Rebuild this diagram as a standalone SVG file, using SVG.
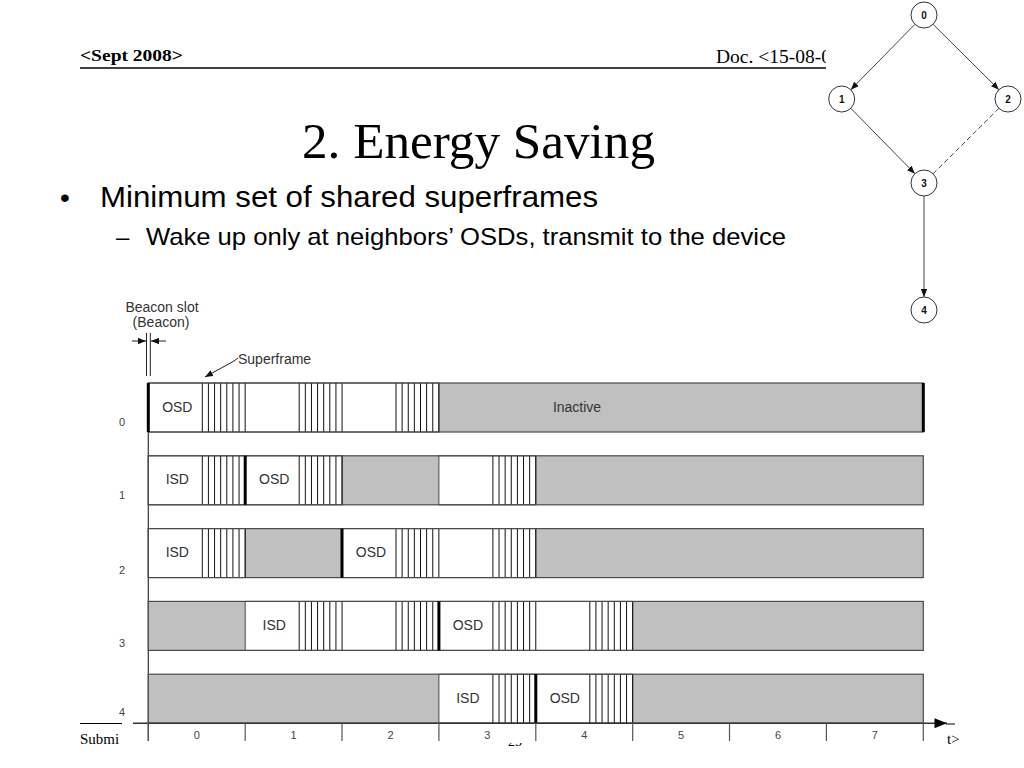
<svg xmlns="http://www.w3.org/2000/svg" width="1024" height="768" viewBox="0 0 1024 768">
<defs>
<style>
.serif{font-family:"Liberation Serif","Times New Roman",serif;fill:#000}
.sans{font-family:"Liberation Sans",Arial,sans-serif;fill:#000}
.ct{font-family:"Liberation Sans",Arial,sans-serif;font-size:14px;fill:#333}
.mid{text-anchor:middle}
.lbl{font-family:"Liberation Sans",Arial,sans-serif;font-size:11px;fill:#444;text-anchor:middle}
.gray{fill:#c0c0c0}
.white{fill:#fff;stroke:#4a4a4a;stroke-width:1}
.outline{fill:none;stroke:#4a4a4a;stroke-width:1.2}
.hl{stroke:#111;stroke-width:1}
.thick{stroke:#000;stroke-width:3}
.node circle{fill:#fff;stroke:#333;stroke-width:1}
.node text{font-family:"Liberation Sans",Arial,sans-serif;font-size:10px;font-weight:bold;text-anchor:middle;fill:#111}
.edge{stroke:#444;stroke-width:1;fill:none}
.ax{stroke:#333;stroke-width:1.5;fill:none}
.tick{stroke:#555;stroke-width:1.2}
</style>
<marker id="ah" viewBox="0 0 10 8" refX="10" refY="4" markerWidth="8" markerHeight="6.4" markerUnits="userSpaceOnUse" orient="auto"><path d="M0,0 L10,4 L0,8 z" fill="#111"/></marker>
<marker id="axah" viewBox="0 0 10 8" refX="10" refY="4" markerWidth="13" markerHeight="10" markerUnits="userSpaceOnUse" orient="auto"><path d="M0,0 L10,4 L0,8 z" fill="#000"/></marker>
<g id="hatch">
<line class="hl" x1="54" y1="0" x2="54" y2="49"/>
<line class="hl" x1="60.12" y1="0" x2="60.12" y2="49"/>
<line class="hl" x1="66.25" y1="0" x2="66.25" y2="49"/>
<line class="hl" x1="72.37" y1="0" x2="72.37" y2="49"/>
<line class="hl" x1="78.5" y1="0" x2="78.5" y2="49"/>
<line class="hl" x1="84.62" y1="0" x2="84.62" y2="49"/>
<line class="hl" x1="90.75" y1="0" x2="90.75" y2="49"/>
<line class="hl" x1="96.87" y1="0" x2="96.87" y2="49"/>
</g>
<clipPath id="hdrclip"><rect x="0" y="0" width="826" height="100"/></clipPath>
<clipPath id="pgclip"><rect x="480" y="743" width="80" height="10"/></clipPath>
</defs>
<rect width="1024" height="768" fill="#fff"/>

<g id="slide-header">
<text class="serif" x="80" y="61" font-size="17.5" font-weight="bold" textLength="103" lengthAdjust="spacingAndGlyphs">&lt;Sept 2008&gt;</text>
<text class="serif" x="716" y="63" font-size="19.5" clip-path="url(#hdrclip)">Doc. &lt;15-08-0</text>
<line x1="80" y1="68" x2="826" y2="68" stroke="#000" stroke-width="1.5"/>
</g>

<g id="slide-text">
<text class="serif" x="302" y="158" font-size="51" textLength="353" lengthAdjust="spacingAndGlyphs">2. Energy Saving</text>
<text class="sans" x="60" y="207" font-size="28">•</text>
<text class="sans" x="100" y="207" font-size="30" textLength="498" lengthAdjust="spacingAndGlyphs">Minimum set of shared superframes</text>
<text class="sans" x="116" y="245" font-size="24">–</text>
<text class="sans" x="146" y="245" font-size="24" textLength="640" lengthAdjust="spacingAndGlyphs">Wake up only at neighbors’ OSDs, transmit to the device</text>
</g>

<g id="slide-footer">
<line x1="80" y1="723.5" x2="122" y2="723.5" stroke="#000" stroke-width="1"/>
<text class="serif" x="80" y="744" font-size="15">Submi</text>
<text class="serif mid" x="515" y="746" font-size="14" clip-path="url(#pgclip)">25</text>
<line x1="946" y1="724" x2="955" y2="724" stroke="#000" stroke-width="1"/>
<text class="serif" x="947" y="744" font-size="15">t&gt;</text>
</g>

<g id="graph">
<g id="graph-edges">
<line class="edge" x1="914.9" y1="24.3" x2="850.8" y2="89.7" marker-end="url(#ah)"/>
<line class="edge" x1="933.1" y1="24.3" x2="998.9" y2="89.7" marker-end="url(#ah)"/>
<line class="edge" x1="850.8" y1="108.3" x2="914.9" y2="173.7" marker-end="url(#ah)"/>
<line class="edge" x1="999" y1="108.3" x2="933.1" y2="173.7" stroke-dasharray="5,3"/>
<line class="edge" x1="924" y1="196" x2="924" y2="297" marker-end="url(#ah)"/>
</g>
<g id="n0" class="node"><circle cx="924" cy="15" r="13"/><text x="924" y="18.5">0</text></g>
<g id="n1" class="node"><circle cx="841.7" cy="99" r="13"/><text x="841.7" y="102.5">1</text></g>
<g id="n2" class="node"><circle cx="1008" cy="99" r="13"/><text x="1008" y="102.5">2</text></g>
<g id="n3" class="node"><circle cx="924" cy="183" r="13"/><text x="924" y="186.5">3</text></g>
<g id="n4" class="node"><circle cx="924" cy="310" r="13"/><text x="924" y="313.5">4</text></g>
</g>

<g id="chart">
<g id="annotations">
<text class="ct mid" x="162" y="312">Beacon slot</text>
<text class="ct mid" x="161" y="327">(Beacon)</text>
<line x1="146.5" y1="333" x2="146.5" y2="376" stroke="#222" stroke-width="1"/>
<line x1="150.3" y1="333" x2="150.3" y2="376" stroke="#222" stroke-width="1"/>
<line x1="132" y1="341" x2="146" y2="341" stroke="#222" stroke-width="1" marker-end="url(#ah)"/>
<line x1="166" y1="341" x2="151" y2="341" stroke="#222" stroke-width="1" marker-end="url(#ah)"/>
<text class="ct" x="238" y="364">Superframe</text>
<polyline points="238,358 234,361 205,377" stroke="#222" stroke-width="1" fill="none" marker-end="url(#ah)"/>
</g>

<line id="v-axis" x1="148.3" y1="383" x2="148.3" y2="741" stroke="#333" stroke-width="1.2"/>

<g id="row0" transform="translate(0,383)">
<rect class="gray" x="148.3" y="0" width="775" height="49"/>
<rect class="white" x="148.3" y="0" width="290.6" height="49"/>
<use href="#hatch" x="148.3"/><use href="#hatch" x="245.2"/><use href="#hatch" x="342"/>
<text class="ct mid" x="177.3" y="29">OSD</text>
<text class="ct mid" x="577" y="29">Inactive</text>
<rect class="outline" x="148.3" y="0" width="775" height="49"/>
<line class="thick" x1="148.3" y1="0" x2="148.3" y2="49"/>
<line class="thick" x1="923.3" y1="0" x2="923.3" y2="49"/>
<text class="lbl" x="122" y="43">0</text>
</g>

<g id="row1" transform="translate(0,455.8)">
<rect class="gray" x="148.3" y="0" width="775" height="49"/>
<rect class="white" x="148.3" y="0" width="193.7" height="49"/>
<rect class="white" x="438.9" y="0" width="96.9" height="49"/>
<use href="#hatch" x="148.3"/><use href="#hatch" x="245.2"/><use href="#hatch" x="438.9"/>
<text class="ct mid" x="177.3" y="28.5">ISD</text>
<text class="ct mid" x="274.2" y="28.5">OSD</text>
<rect class="outline" x="148.3" y="0" width="775" height="49"/>
<line class="thick" x1="245.2" y1="0" x2="245.2" y2="49"/>
<text class="lbl" x="122" y="43">1</text>
</g>

<g id="row2" transform="translate(0,528.6)">
<rect class="gray" x="148.3" y="0" width="775" height="49"/>
<rect class="white" x="148.3" y="0" width="96.9" height="49"/>
<rect class="white" x="342" y="0" width="193.8" height="49"/>
<use href="#hatch" x="148.3"/><use href="#hatch" x="342"/><use href="#hatch" x="438.9"/>
<text class="ct mid" x="177.3" y="28.5">ISD</text>
<text class="ct mid" x="371" y="28.5">OSD</text>
<rect class="outline" x="148.3" y="0" width="775" height="49"/>
<line class="thick" x1="342" y1="0" x2="342" y2="49"/>
<text class="lbl" x="122" y="45">2</text>
</g>

<g id="row3" transform="translate(0,601.4)">
<rect class="gray" x="148.3" y="0" width="775" height="49"/>
<rect class="white" x="245.2" y="0" width="387.5" height="49"/>
<use href="#hatch" x="245.2"/><use href="#hatch" x="342"/><use href="#hatch" x="438.9"/><use href="#hatch" x="535.8"/>
<text class="ct mid" x="274.2" y="28.5">ISD</text>
<text class="ct mid" x="467.9" y="28.5">OSD</text>
<rect class="outline" x="148.3" y="0" width="775" height="49"/>
<line class="thick" x1="438.9" y1="0" x2="438.9" y2="49"/>
<text class="lbl" x="122" y="46">3</text>
</g>

<g id="row4" transform="translate(0,674.2)">
<rect class="gray" x="148.3" y="0" width="775" height="49"/>
<rect class="white" x="438.9" y="0" width="193.8" height="49"/>
<use href="#hatch" x="438.9"/><use href="#hatch" x="535.8"/>
<text class="ct mid" x="467.9" y="28.5">ISD</text>
<text class="ct mid" x="564.8" y="28.5">OSD</text>
<rect class="outline" x="148.3" y="0" width="775" height="49"/>
<line class="thick" x1="535.8" y1="0" x2="535.8" y2="49"/>
<text class="lbl" x="122" y="42">4</text>
</g>

<g id="time-axis">
<line class="ax" x1="133" y1="723.2" x2="947" y2="723.2" marker-end="url(#axah)"/>
<line class="tick" x1="148.3" y1="723" x2="148.3" y2="741"/>
<line class="tick" x1="245.2" y1="723" x2="245.2" y2="741"/>
<line class="tick" x1="342" y1="723" x2="342" y2="741"/>
<line class="tick" x1="438.9" y1="723" x2="438.9" y2="741"/>
<line class="tick" x1="535.8" y1="723" x2="535.8" y2="741"/>
<line class="tick" x1="632.7" y1="723" x2="632.7" y2="741"/>
<line class="tick" x1="729.5" y1="723" x2="729.5" y2="741"/>
<line class="tick" x1="826.4" y1="723" x2="826.4" y2="741"/>
<line class="tick" x1="923.3" y1="723" x2="923.3" y2="741"/>
<text class="lbl" x="196.7" y="739">0</text>
<text class="lbl" x="293.6" y="739">1</text>
<text class="lbl" x="390.5" y="739">2</text>
<text class="lbl" x="487.4" y="739">3</text>
<text class="lbl" x="584.2" y="739">4</text>
<text class="lbl" x="681.1" y="739">5</text>
<text class="lbl" x="778" y="739">6</text>
<text class="lbl" x="874.9" y="739">7</text>
</g>
</g>
</svg>
